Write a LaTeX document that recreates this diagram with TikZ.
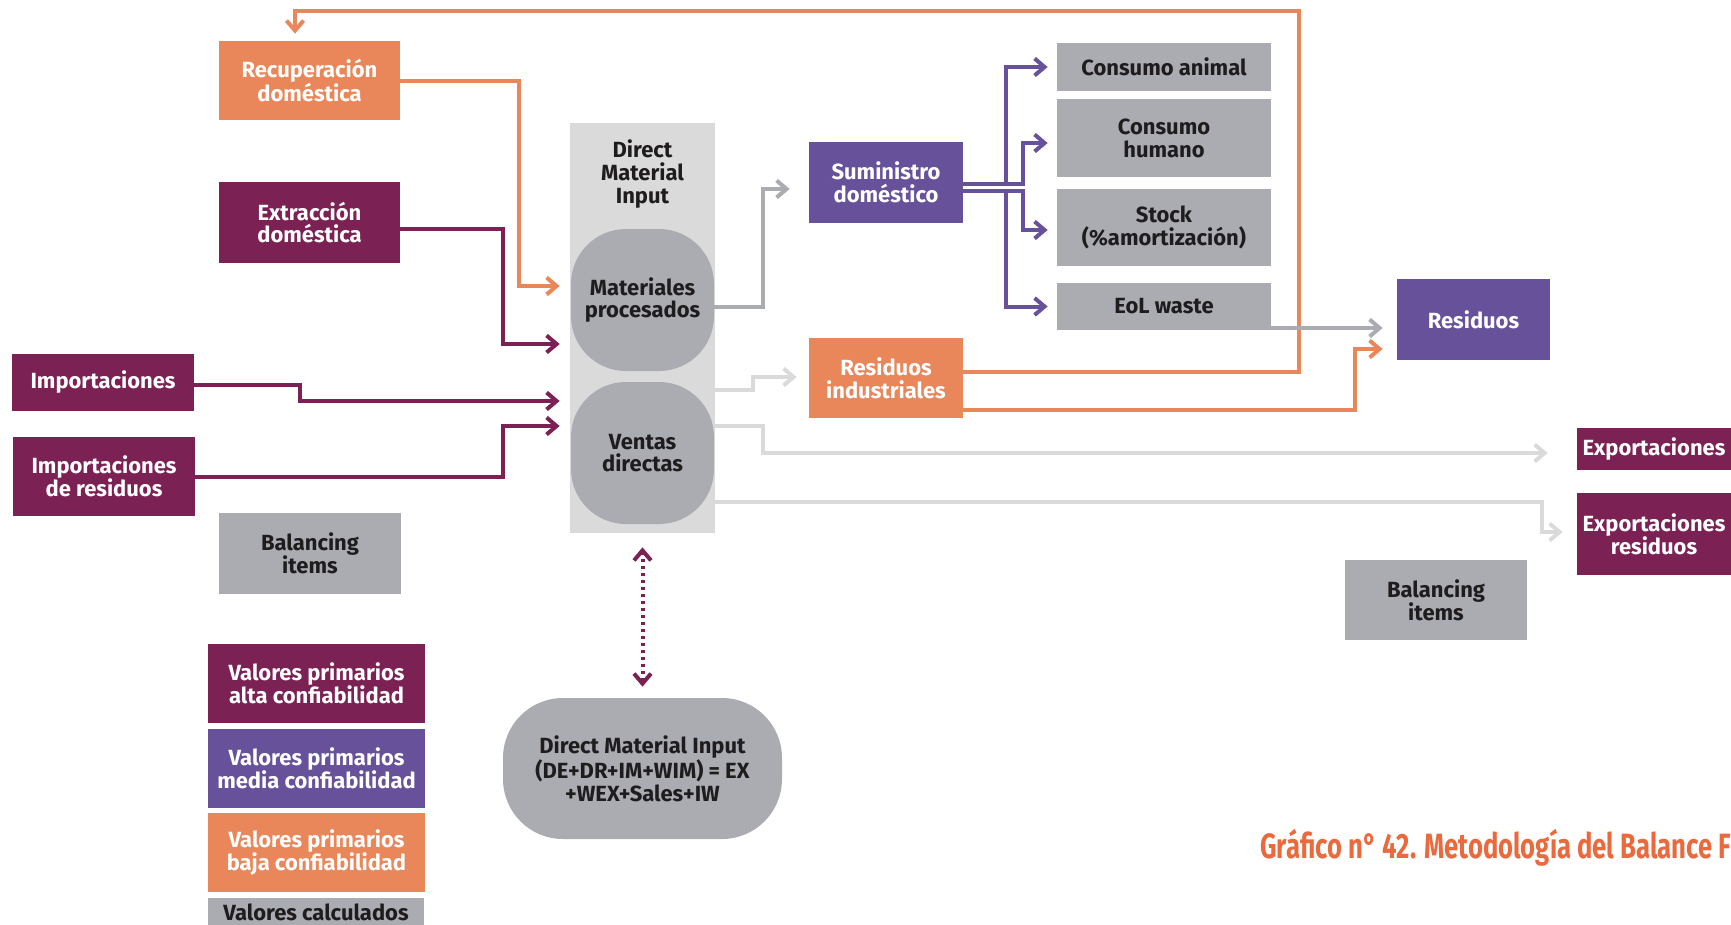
\documentclass[tikz,border=0pt]{standalone}
\usepackage{fontspec}
\setmainfont{Fira Sans}
\newfontfamily\capfont{Fira Sans}[FakeStretch=0.73]
\usetikzlibrary{arrows.meta, calc}

\definecolor{dmiMaroon}{RGB}{123,33,83}
\definecolor{dmiViolet}{RGB}{103,81,155}
\definecolor{dmiOrange}{RGB}{233,135,90}
\definecolor{dmiGray}{RGB}{170,172,178}
\definecolor{dmiLight}{RGB}{218,218,218}
\definecolor{dmiText}{RGB}{30,28,29}
\definecolor{dmiTitle}{RGB}{234,106,62}

\newcommand{\boxfont}{\fontsize{12.5}{13}\selectfont\bfseries}

\begin{document}
\begin{tikzpicture}[x=0.02cm, y=-0.02cm,
    box/.style={rectangle, inner sep=0pt, align=center, font=\boxfont},
    tile/.style 2 args={box, minimum width=#1*0.02cm, minimum height=#2*0.02cm},
    alta/.style={fill=dmiMaroon, text=white},
    media/.style={fill=dmiViolet, text=white},
    baja/.style={fill=dmiOrange, text=white},
    calculado/.style={fill=dmiGray, text=dmiText},
    blob/.style={tile={143}{142}, rounded corners=1.1cm, calculado},
    flow/.style={line width=0.08cm, -{Straight Barb[length=0.2cm, width=0.34cm]}}]

    \useasboundingbox (0,0) rectangle (1731,924);
    \clip (0,0) rectangle (1731,924);

    % Inputs
    \node[tile={181}{79}, baja] (recup) at (309.5,80.5) {Recuperación\\doméstica};
    \node[tile={181}{81}, alta] (extr) at (309.5,222.5) {Extracción\\doméstica};
    \node[tile={182}{57}, alta] (impo) at (103,382.5) {Importaciones};
    \node[tile={182}{79}, alta] (impres) at (104,476.5) {Importaciones\\de residuos};
    \node[tile={182}{81}, calculado] (balL) at (310,553.5) {Balancing\\items};

    % Direct Material Input column
    \node[tile={145}{410}, fill=dmiLight] (dmi) at (642.5,328) {};
    \node[box, text=dmiText] (dmititle) at (642.5,174) {Direct\\Material\\Input};
    \node[blob] (matproc) at (642.5,300) {Materiales\\procesados};
    \node[blob] (ventas) at (642.5,453) {Ventas\\directas};

    % Domestic supply and its uses
    \node[tile={154}{81}, media] (sumin) at (886,182.5) {Suministro\\doméstico};
    \node[tile={154}{80}, baja] (resind) at (886,378) {Residuos\\industriales};
    \node[tile={214}{48}, calculado] (consan) at (1164,67) {Consumo animal};
    \node[tile={214}{78}, calculado] (conshu) at (1164,138) {Consumo\\humano};
    \node[tile={214}{77}, calculado] (stock) at (1164,227.5) {Stock\\(\%amortización)};
    \node[tile={214}{47}, calculado] (eol) at (1164,306.5) {EoL waste};
    \node[tile={153}{81}, media] (resid) at (1473.5,319.5) {Residuos};

    % Outputs
    \node[tile={154}{42}, alta] (expo) at (1654,449) {Exportaciones};
    \node[tile={154}{82}, alta] (expres) at (1654,534) {Exportaciones\\residuos};
    \node[tile={182}{80}, calculado] (balR) at (1436,600) {Balancing\\items};

    % Balance identity
    \node[tile={279}{141}, rounded corners=1.2cm, calculado] (ident) at (642.5,768.5)
        {Direct Material Input\\(DE+DR+IM+WIM) = EX\\+WEX+Sales+IW};

    % Legend
    \foreach \y/\col/\lvl in {683.5/dmiMaroon/alta, 768/dmiViolet/media, 852.5/dmiOrange/baja} {
        \node[tile={217}{79}, fill=\col, text=white] (leg-\lvl) at (316.5,\y)
            {Valores primarios\\\lvl\ confiabilidad};
    }
    \node[tile={216}{28}, calculado] (leg-calc) at (316,912) {Valores calculados};

    % Caption
    \node[anchor=base west, inner sep=0pt, text=dmiTitle,
          font={\capfont\fontsize{20}{24}\selectfont\bfseries}] (caption) at (1260,858)
        {Gráfico n° 42. Metodología del Balance F};

    % Flows into the column
    \draw[flow, dmiOrange] (recup.east) -| ($(matproc.west)+(-52,-14)$) -- ($(matproc.west)+(-11,-14)$);
    \draw[flow, dmiMaroon] ($(extr.east)+(0,6)$) -| ($(matproc.west)+(-68,44)$) -- ($(matproc.west)+(-11,44)$);
    \draw[flow, dmiMaroon] ($(impo.east)+(0,2)$) -| ($(ventas.west)+(-271,-52)$) -- ($(ventas.west)+(-11,-52)$);
    \draw[flow, dmiMaroon] (impres.east) -| ($(ventas.west)+(-68,-27)$) -- ($(ventas.west)+(-11,-27)$);

    % Flows out of the column
    \draw[flow, dmiGray] ($(matproc.east)+(0,7)$) -| ($(sumin.west)+(-46,6.5)$) -- ($(sumin.west)+(-19,6.5)$);
    \draw[flow, dmiLight] ($(dmi.east)+(0,62)$) -| ($(resind.west)+(-56,-1)$) -- ($(resind.west)+(-12,-1)$);
    \draw[flow, dmiLight] ($(dmi.east)+(0,98)$) -| ($(expo.west)+(-814,4)$) -- ($(expo.west)+(-29,4)$);
    \draw[flow, dmiLight] ($(dmi.east)+(0,174)$) -| ($(expres.west)+(-35,-2)$) -- ($(expres.west)+(-14,-2)$);

    % Supply split
    \foreach \dst/\bx/\dy/\sy in {consan/51/0/1, conshu/34/5/1, stock/34/2.5/8, eol/51/0/8} {
        \draw[flow, dmiViolet] ($(sumin.east)+(0,\sy)$) -| ($(\dst.west)+(-\bx,\dy)$) -- ($(\dst.west)+(-9,\dy)$);
    }

    % Waste flows
    \draw[flow, dmiOrange] ($(resind.east)+(0,-6)$) -- ++(336,0) |- ($(recup.north)+(-14.5,-30)$) -- ($(recup.north)+(-14.5,-7)$);
    \draw[flow, dmiGray] ($(eol.east)+(0,21.5)$) -- ($(resid.west)+(-14,8.5)$);
    \draw[flow, dmiOrange] ($(resind.east)+(0,32)$) -| ($(resid.west)+(-42,29.5)$) -- ($(resid.west)+(-14,29.5)$);

    % Link to the identity
    \draw[dmiMaroon, line width=0.08cm, dash pattern=on 0.06cm off 0.08cm,
          {Straight Barb[length=0.2cm, width=0.34cm]}-{Straight Barb[length=0.2cm, width=0.34cm]}]
        ($(dmi.south)+(0,14)$) -- ($(ident.north)+(0,-11)$);
\end{tikzpicture}
\end{document}
